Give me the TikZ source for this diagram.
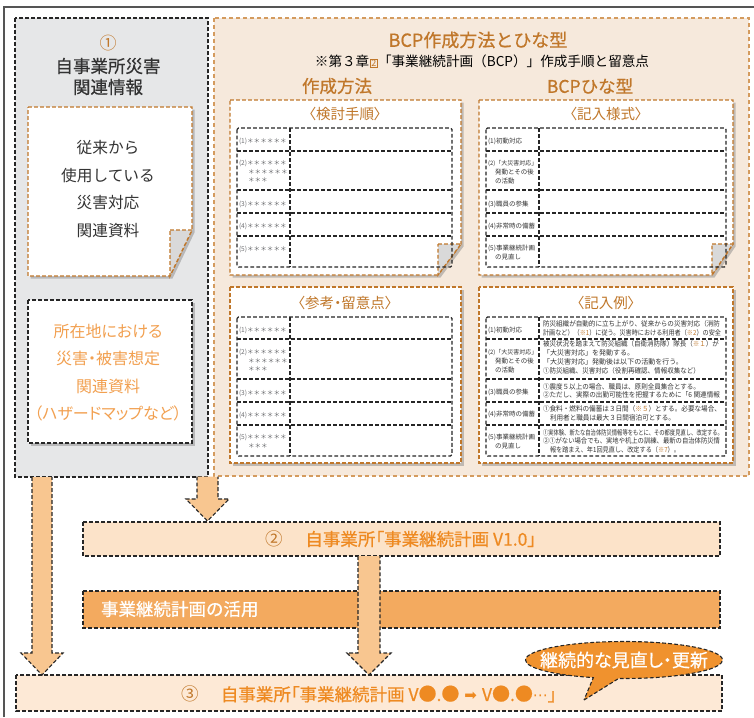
\documentclass[tikz,border=0pt]{standalone}
\usepackage{fontspec}
\setmainfont{Noto Sans CJK JP}
\newfontfamily\jpp{Noto Sans CJK JP}[RawFeature={+palt}]
\newfontfamily\jpm{Noto Sans CJK JP}[FakeBold=0.7]
\newfontfamily\jpmp{Noto Sans CJK JP}[FakeBold=0.7,RawFeature={+palt}]
\newfontfamily\djv{DejaVu Sans}
\usetikzlibrary{shapes.callouts,shadows}
\newcommand\fsz[1]{\fontsize{#1}{#1}\selectfont}
\newcommand\fitline[2]{\resizebox{#1pt}{\height}{#2}}
\definecolor{panelgray}{HTML}{E6E7E8}
\definecolor{panelor}{HTML}{F6E9DC}
\definecolor{panelborder}{HTML}{D49B5E}
\definecolor{brn}{HTML}{C0772A}
\definecolor{lorange}{HTML}{F2A050}
\definecolor{boxtwo}{HTML}{FCE3C9}
\definecolor{otext}{HTML}{EE8A22}
\definecolor{actfill}{HTML}{F3AA5F}
\definecolor{boxthree}{HTML}{FDE9D6}
\definecolor{arrfill}{HTML}{F8C690}
\definecolor{callfill}{HTML}{F0922E}
\definecolor{tgray}{HTML}{6D6E71}
\definecolor{tdark}{HTML}{333333}
\definecolor{frame}{HTML}{555555}
\begin{document}
\begin{tikzpicture}[x=1pt,y=-1pt,
  txt/.style={inner sep=0pt,outer sep=0pt},
  small/.style={txt,anchor=west,text height=0.8em,text depth=0.1em},
  lbl/.style={small,text=tgray,font=\fsz{6.6}},
  lbltwo/.style={small,text=tdark,font=\fsz{6.5}},
  ex/.style={small,text=tdark,font=\fsz{7}},
  dblack/.style={draw=black!85,dash pattern=on 3.8pt off 2.2pt,line width=1.1pt},
  dbrn/.style={draw=brn,dash pattern=on 3.8pt off 2.2pt,line width=1.3pt},
  dpanel/.style={draw=panelborder,dash pattern=on 4pt off 3pt,line width=1.2pt},
  pshadow/.style={drop shadow={shadow xshift=2.5pt,shadow yshift=-2.5pt,opacity=0.45,fill=black!50}},
  fold/.style={fill=black!15,dbrn}]
\useasboundingbox (0,0) rectangle (754,717);
% outer frame
\draw[frame,line width=1.5pt] (4,717) -- (4,7) -- (754,7);
% panels
\filldraw[fill=panelgray,dblack] (15,18) rectangle (208,477);
\filldraw[fill=panelor,dpanel] (214,18) rectangle (749,476);
% left panel texts
\node[txt,text=brn,font=\fsz{17}] (c1) at (108,43) {①};
\node[txt,text=tdark,font=\fsz{17.5}\jpm] (t1a) at (108,66) {自事業所災害};
\node[txt,text=tdark,font=\fsz{17.5}\jpm] (t1b) at (108,87) {関連情報};
% paper 1
\filldraw[fill=white,dbrn,pshadow] (28,107) -- (192,107) -- (192,230) -- (170,276) -- (28,276) -- cycle;
\filldraw[fold] (170,230) -- (192,230) -- (170,276) -- cycle;
\node[txt,text=tdark,font=\fsz{15.7}] (p1a) at (108,148) {従来から};
\node[txt,text=tdark,font=\fsz{15.7}] (p1b) at (108,176) {使用している};
\node[txt,text=tdark,font=\fsz{15.7}] (p1c) at (108,203) {災害対応};
\node[txt,text=tdark,font=\fsz{15.7}] (p1d) at (108,231) {関連資料};
% box 2 left
\filldraw[fill=white,dblack,pshadow] (28,300) rectangle (192,443);
\node[txt,text=lorange,font=\fsz{16}\jpp] (p2a) at (108,331) {所在地における};
\node[txt,text=lorange,font=\fsz{16}\jpp] (p2b) at (108,358) {災害・被害想定};
\node[txt,text=lorange,font=\fsz{16}\jpp] (p2c) at (108,386) {関連資料};
\node[txt,text=lorange,font=\fsz{16}\jpp] (p2d) at (108,413) {（ハザードマップなど）};
% orange panel titles
\node[txt,text=brn,font=\fsz{18}\jpm] (ttl) at (478,40) {BCP作成方法とひな型};
\node[txt,text=black,font=\fsz{13.6}] (sub) at (482,61) {※第３章\hspace{1pt}{\color{brn}\setlength\fboxsep{0.6pt}\setlength\fboxrule{0.5pt}\fbox{\fsz{9}2}}\hspace{0.5pt}「事業継続計画（BCP）」作成手順と留意点};
\node[txt,text=brn,font=\fsz{17.5}\jpm] (hm) at (337,86) {作成方法};
\node[txt,text=brn,font=\fsz{17.5}\jpm] (hh) at (590,86) {BCPひな型};
% paper 3
\filldraw[fill=white,dbrn,pshadow] (230,100) -- (461,100) -- (461,244) -- (438,275) -- (230,275) -- cycle;
\filldraw[fold] (438,244) -- (461,244) -- (438,275) -- cycle;
\node[txt,text=brn,font=\fsz{14.5}\jpp] (p3t) at (345,114) {〈検討手順〉};
\draw[dblack,rounded corners=1.5pt] (237,128) rectangle (452,267);
\draw[dblack] (290,128) -- (290,267);
\foreach \yy in {151,190,213,236} \draw[dblack] (237,\yy) -- (452,\yy);
\node[lbl] (p3r1) at (239,140) {(1)＊＊＊＊＊＊};
\node[lbl] (p3r2) at (239,162) {(2)＊＊＊＊＊＊};
\node[lbl] (p3r2b) at (248,170.5) {＊＊＊＊＊＊};
\node[lbl] (p3r2c) at (248,179) {＊＊＊};
\node[lbl] (p3r3) at (239,203) {(3)＊＊＊＊＊＊};
\node[lbl] (p3r4) at (239,225) {(4)＊＊＊＊＊＊};
\node[lbl] (p3r5) at (239,248) {(5)＊＊＊＊＊＊};
% paper 4
\filldraw[fill=white,dbrn,pshadow] (479,100) -- (733,100) -- (733,244) -- (712,275) -- (479,275) -- cycle;
\filldraw[fold] (712,244) -- (733,244) -- (712,275) -- cycle;
\node[txt,text=brn,font=\fsz{14.5}\jpp] (p4t) at (606,114) {〈記入様式〉};
\draw[dblack,rounded corners=1.5pt] (486,128) rectangle (726,267);
\draw[dblack] (539,128) -- (539,267);
\foreach \yy in {151,190,213,236} \draw[dblack] (486,\yy) -- (726,\yy);
\node[lbltwo] (p4r1) at (488,140) {(1)初動対応};
\node[lbltwo,font=\fsz{6}] (p4r2) at (488,162) {(2)「大災害対応」};
\node[lbltwo] (p4r2b) at (495,171) {発動とその後};
\node[lbltwo] (p4r2c) at (495,179.5) {の活動};
\node[lbltwo] (p4r3) at (488,203) {(3)職員の参集};
\node[lbltwo] (p4r4) at (488,225) {(4)非常時の備蓄};
\node[lbltwo] (p4r5) at (488,247) {(5)事業継続計画};
\node[lbltwo] (p4r5b) at (495,255.5) {の見直し};
% paper 5
\filldraw[fill=white,dbrn,pshadow] (230,287) rectangle (461,463);
\node[txt,text=brn,font=\fsz{14.5}\jpp] (p5t) at (345,303) {〈参考・留意点〉};
\draw[dblack,rounded corners=1.5pt] (237,317) rectangle (452,456);
\draw[dblack] (290,317) -- (290,456);
\foreach \yy in {339,379,402,425} \draw[dblack] (237,\yy) -- (452,\yy);
\node[lbl] (p5r1) at (239,329) {(1)＊＊＊＊＊＊};
\node[lbl] (p5r2) at (239,351) {(2)＊＊＊＊＊＊};
\node[lbl] (p5r2b) at (248,359.5) {＊＊＊＊＊＊};
\node[lbl] (p5r2c) at (248,368) {＊＊＊};
\node[lbl] (p5r3) at (239,392) {(3)＊＊＊＊＊＊};
\node[lbl] (p5r4) at (239,414) {(4)＊＊＊＊＊＊};
\node[lbl] (p5r5) at (239,436) {(5)＊＊＊＊＊＊};
\node[lbl] (p5r5b) at (248,444.5) {＊＊＊};
% paper 6
\filldraw[fill=white,dbrn,pshadow] (479,287) rectangle (733,463);
\node[txt,text=brn,font=\fsz{14.5}\jpp] (p6t) at (606,303) {〈記入例〉};
\draw[dblack,rounded corners=1.5pt] (486,317) rectangle (726,456);
\draw[dblack] (539,317) -- (539,456);
\foreach \yy in {339,379,402,425} \draw[dblack] (486,\yy) -- (726,\yy);
\node[lbltwo] (p6r1) at (488,329) {(1)初動対応};
\node[lbltwo,font=\fsz{6}] (p6r2) at (488,351) {(2)「大災害対応」};
\node[lbltwo] (p6r2b) at (495,360) {発動とその後};
\node[lbltwo] (p6r2c) at (495,368.5) {の活動};
\node[lbltwo] (p6r3) at (488,391) {(3)職員の参集};
\node[lbltwo] (p6r4) at (488,413) {(4)非常時の備蓄};
\node[lbltwo] (p6r5) at (488,436) {(5)事業継続計画};
\node[lbltwo] (p6r5b) at (495,444.5) {の見直し};
\node[ex] (e1a) at (543,323) {\fitline{177}{防災組織が自動的に立ち上がり、従来からの災害対応（消防}};
\node[ex] (e1b) at (543,332) {\fitline{178}{計画など）（{\color{brn}※1}）に従う。災害時における利用者（{\color{brn}※2}）の安全}};
\node[ex] (e2a) at (543,343) {\fitline{176}{被災状況を踏まえて防災組織（自衛消防隊）隊長（{\color{brn}※１}）が}};
\node[ex] (e2b) at (543,352) {「大災害対応」を発動する。};
\node[ex] (e2c) at (543,360.5) {\fitline{140}{「大災害対応」発動後は以下の活動を行う。}};
\node[ex] (e2d) at (543,369.5) {\fitline{157}{①防災組織、災害対応（役割再確認、情報収集など）}};
\node[ex] (e3a) at (543,386) {\fitline{157}{①震度５以上の場合、職員は、原則全員集合とする。}};
\node[ex] (e3b) at (543,394) {\fitline{177}{②ただし、実際の出勤可能性を把握するために「6 関連情報}};
\node[ex] (e4a) at (543,408) {\fitline{178}{①食料・燃料の備蓄は３日間（{\color{brn}※５}）とする。必要な場合、}};
\node[ex] (e4b) at (550,417) {\fitline{125}{利用者と職員は最大３日間宿泊可とする。}};
\node[ex] (e5a) at (543,432) {\fitline{180}{①実体験、新たな自治体防災情報等をもとに、その都度見直し、改定する。}};
\node[ex] (e5b) at (543,440) {\fitline{177}{②①がない場合でも、実地や机上の訓練、最新の自治体防災情}};
\node[ex] (e5c) at (550,448.5) {\fitline{130}{報を踏まえ、年1回見直し、改定する（{\color{brn}※7}）。}};
% box 2 (V1.0)
\filldraw[fill=boxtwo,dblack] (83,522) rectangle (720,556);
\node[txt,text=otext,font=\fsz{17.5}\jpmp] (v1) at (401,539) {{\color{brn}\jpp ②}\hspace{22pt}自事業所「事業継続計画 V1.0」};
% activity box
\filldraw[fill=actfill,dblack] (83,591) rectangle (720,628);
\node[txt,anchor=west,text=white,font=\fsz{17.5}\jpm] (act) at (101,609) {事業継続計画の活用};
% box 3
\filldraw[fill=boxthree,dblack] (16,675) rectangle (722,711);
\node[txt,text=otext,font=\fsz{17.5}\jpmp] (v3) at (369,694) {{\color{brn}\jpp ③}\hspace{22pt}自事業所「事業継続計画 V\raisebox{0.5pt}{\fsz{18}●}.\raisebox{0.5pt}{\fsz{18}●}\hspace{5pt}{\djv\fsz{15}➡}\hspace{5pt}V\raisebox{0.5pt}{\fsz{18}●}.\raisebox{0.5pt}{\fsz{18}●}{\djv\fsz{15}⋯}」};
% block arrows
\path[fill=arrfill] (32,477) -- (32,653) -- (21,653) -- (42,675) -- (63,653) -- (52,653) -- (52,477) -- cycle;
\draw[dblack] (32,477) -- (32,653) -- (21,653) -- (42,675) -- (63,653) -- (52,653) -- (52,477);
\path[fill=arrfill] (197,476.5) -- (197,499) -- (186,499) -- (207.5,521) -- (229,499) -- (218,499) -- (218,476.5) -- cycle;
\draw[dblack] (197,476.5) -- (197,499) -- (186,499) -- (207.5,521) -- (229,499) -- (218,499) -- (218,476.5);
\path[fill=arrfill] (358,556) -- (358,653) -- (347,653) -- (369,675) -- (391,653) -- (380,653) -- (380,556) -- cycle;
\draw[dblack] (358,556) -- (358,653) -- (347,653) -- (369,675) -- (391,653) -- (380,653) -- (380,556);
% callout
\node[ellipse callout,fill=callfill,dblack,callout absolute pointer={(584,700)},minimum width=197pt,minimum height=37pt,inner sep=0pt,text=white,font=\fsz{18}\jpmp] (call) at (624,660) {\makebox[0pt]{継続的な見直し・更新}};
\end{tikzpicture}
\end{document}
